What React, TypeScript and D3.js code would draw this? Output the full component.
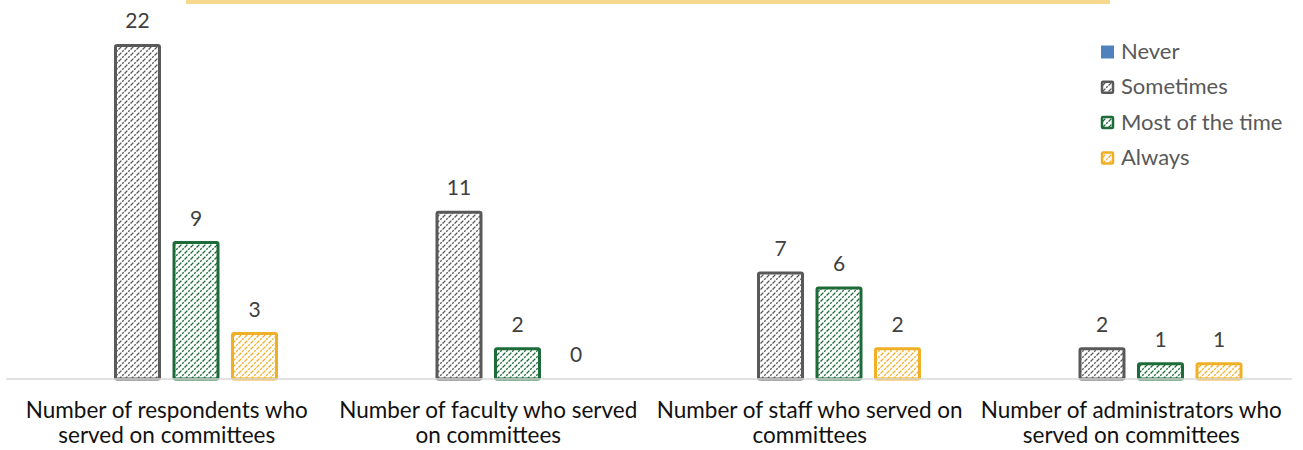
import React from 'react';
import * as d3 from 'd3';

const categories = [
  ['Number of respondents who', 'served on committees'],
  ['Number of faculty who served', 'on committees'],
  ['Number of staff who served on', 'committees'],
  ['Number of administrators who', 'served on committees'],
];
const seriesNames = ['Never', 'Sometimes', 'Most of the time', 'Always'];
const never: (number | null)[] = [null, null, null, null];
const sometimes = [22, 11, 7, 2];
const mostOfTheTime = [9, 2, 6, 1];
const always = [3, 0, 2, 1];

const colors = ['#4F81BD', '#595959', '#1E6B3A', '#EFB027'];
const width = 1303;
const height = 450;

const App = () => {
  const values = [never, sometimes, mostOfTheTime, always];
  const x0 = d3.scaleBand<number>().domain(d3.range(categories.length)).range([6, 1292]).padding(0);
  const x1 = d3
    .scaleBand<number>()
    .domain(d3.range(seriesNames.length))
    .range([51, x0.bandwidth() - 51])
    .paddingInner(0.248)
    .paddingOuter(0);
  const y = d3.scaleLinear().domain([0, 25]).range([379, 0]);
  const font = 'Lato, Calibri, sans-serif';

  return (
    <svg
      width={width}
      height={height}
      style={{ position: 'absolute', left: 0, top: 0, background: '#fff' }}
    >
      <defs>
        {colors.map((c, i) => (
          <pattern key={i} id={`hatch${i}`} width={6} height={6} patternUnits="userSpaceOnUse">
            <rect width={6} height={6} fill="#fff" />
            <path
              d="M-1,1 L1,-1 M0,6 L6,0 M5,7 L7,5"
              stroke={c}
              strokeWidth={1.3}
              strokeDasharray="2 1.2"
            />
          </pattern>
        ))}
      </defs>

      {/* partly visible title box */}
      <rect x={186} y={0} width={924} height={4} fill="#F6D98F" />

      {values.map((vals, s) =>
        vals.map((v, i) => {
          if (v === null) return null;
          const bx = (x0(i) ?? 0) + (x1(s) ?? 0);
          const top = y(v);
          return (
            <g key={`${s}-${i}`}>
              {v > 0 && (
                <rect
                  x={bx}
                  y={top}
                  width={x1.bandwidth()}
                  height={y(0) - top}
                  fill={`url(#hatch${s})`}
                  stroke={colors[s]}
                  strokeWidth={3}
                  rx={1.5}
                />
              )}
              <text
                x={bx + x1.bandwidth() / 2}
                y={top - 17}
                textAnchor="middle"
                fontFamily={font}
                fontSize={21}
                fill="#404040"
              >
                {v}
              </text>
            </g>
          );
        })
      )}

      <line x1={6} x2={1292} y1={y(0)} y2={y(0)} stroke="#D9D9D9" strokeWidth={1.5} />

      {categories.map((lines, i) => (
        <text
          key={i}
          x={(x0(i) ?? 0) + x0.bandwidth() / 2}
          textAnchor="middle"
          fontFamily={font}
          fontSize={22.5}
          fill="#111"
        >
          {lines.map((l, j) => (
            <tspan key={j} x={(x0(i) ?? 0) + x0.bandwidth() / 2} y={418 + j * 25}>
              {l}
            </tspan>
          ))}
        </text>
      ))}

      {seriesNames.map((name, s) => {
        const cy = 52 + s * 35.3;
        return (
          <g key={name}>
            {s === 0 ? (
              <rect x={1101} y={cy - 6.5} width={13} height={13} fill={colors[0]} />
            ) : (
              <rect
                x={1102}
                y={cy - 5.5}
                width={11}
                height={11}
                fill={`url(#hatch${s})`}
                stroke={colors[s]}
                strokeWidth={2.5}
                rx={1}
              />
            )}
            <text x={1121} y={cy + 7} fontFamily={font} fontSize={22} fill="#595959">
              {name}
            </text>
          </g>
        );
      })}
    </svg>
  );
};

export default App;
